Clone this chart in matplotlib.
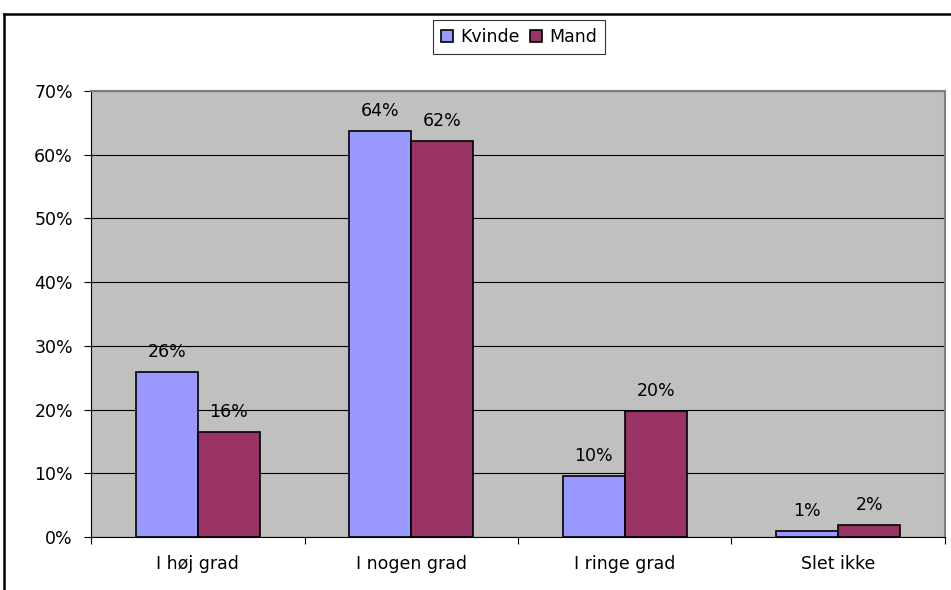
import numpy as np
import matplotlib.pyplot as plt
from matplotlib.lines import Line2D

plt.rcParams['font.family'] = ['DejaVu Sans']

categories = ['I høj grad', 'I nogen grad', 'I ringe grad', 'Slet ikke']
kvinde = [25.9, 63.7, 9.6, 0.9]
mand = [16.5, 62.1, 19.8, 1.9]
series_names = ['Kvinde', 'Mand']
colors = ['#9999FF', '#993366']
fs = 12.5

fig = plt.figure(figsize=(9.51, 5.90), dpi=100)
ax = fig.add_axes([91/951, 1-537/590, (945-91)/951, (537-91)/590])
ax.set_facecolor('#C0C0C0')

x = np.arange(len(categories))
w = 0.29
b1 = ax.bar(x - w/2, kvinde, w, color=colors[0], edgecolor='black', lw=1.2, label=series_names[0], zorder=3)
b2 = ax.bar(x + w/2, mand, w, color=colors[1], edgecolor='black', lw=1.2, label=series_names[1], zorder=3)

for bars, vals in [(b1, kvinde), (b2, mand)]:
    for r, v in zip(bars, vals):
        ax.annotate('%d%%' % round(v), (r.get_x() + r.get_width()/2, v),
                    xytext=(0, 14.5), textcoords='offset points',
                    ha='center', va='center', fontsize=fs, zorder=4)

ax.set_xlim(-0.5, len(categories) - 0.5)
ax.set_ylim(0, 70)
ax.set_yticks(np.arange(0, 71, 10))
ax.set_yticklabels(['%d%%' % t for t in range(0, 71, 10)], fontsize=fs)
ax.yaxis.grid(True, color='black', lw=0.8, zorder=1)
ax.set_axisbelow(True)

ax.set_xticks(x)
ax.set_xticklabels(categories, fontsize=fs)
ax.set_xticks(np.arange(-0.5, len(categories)), minor=True)
ax.tick_params(axis='x', which='major', length=0, pad=13)
ax.tick_params(axis='x', which='minor', length=5, width=0.8, direction='out')
ax.tick_params(axis='y', length=5, width=0.8, direction='out', pad=8)

ax.spines['top'].set_color('#808080')
ax.spines['right'].set_color('#808080')
ax.spines['top'].set_linewidth(1.5)
ax.spines['right'].set_linewidth(1.5)
ax.spines['left'].set_linewidth(0.8)
ax.spines['bottom'].set_linewidth(0.8)

leg = fig.legend(loc='center', bbox_to_anchor=(519/951, 1-37/590), ncol=2, fontsize=fs,
                 frameon=True, fancybox=False, edgecolor='black', handlelength=0.7,
                 handleheight=0.7, handletextpad=0.4, columnspacing=0.6, borderpad=0.45,
                 borderaxespad=0.5)
leg.get_frame().set_linewidth(0.8)

# chart border
fig.add_artist(Line2D([4/951, 4/951], [0, 1-14/590], color='black', lw=1.8))
fig.add_artist(Line2D([4/951, 1], [1-14/590, 1-14/590], color='black', lw=1.8))

fig.savefig('out.png', dpi=100)
